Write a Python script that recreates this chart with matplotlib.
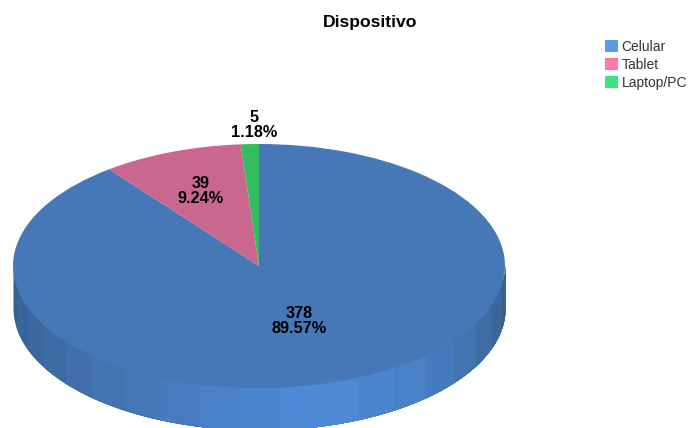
import numpy as np
import matplotlib
matplotlib.use('Agg')
import matplotlib.pyplot as plt
from matplotlib.patches import Patch

plt.rcParams['font.family'] = ['Liberation Sans', 'DejaVu Sans']

# data
devices = ['Celular', 'Tablet', 'Laptop/PC']
counts = [378, 39, 5]
top_colors = ['#4678B8', '#C9678F', '#33BC60']
legend_colors = ['#5B9BE8', '#FF79A8', '#3DE57E']
side_shades = ['#35608F', '#38659A', '#3A689E', '#3D6CA4', '#406FA9', '#4274B0',
               '#4478B7', '#467CBE', '#4881C6', '#4B85CE', '#4E8AD6', '#4E89D6',
               '#4B85CE', '#4881C6', '#457BBC', '#4274B0', '#3E6DA6', '#3A6699',
               '#365F90']

W, H = 688, 428
CX, CY, RX, RY = 259, 266, 246, 122
DEPTH = 42


def px(x, y):
    # picture pixels to axes data units
    return (x - CX) / RX, (CY - y) / RY


fig = plt.figure(figsize=(W / 100, H / 100), dpi=100)
ax = fig.add_axes([0, 0, 1, 1])

# side of the disc, lower half of the ellipse pushed down
# each band runs on to the end so no seam shows between neighbours
edges = np.linspace(np.pi, 2 * np.pi, len(side_shades) + 1)
for a0, shade in zip(edges[:-1], side_shades):
    t = np.linspace(a0, 2 * np.pi, 80)
    x = np.cos(t)
    y = np.sin(t)
    ax.fill_between(x, y * 0.9, y - DEPTH / RY, color=shade, lw=0, zorder=1)

wedges, _ = ax.pie(counts, colors=top_colors, startangle=90, counterclock=False,
                   wedgeprops={'linewidth': 0})
for w in wedges:
    w.set_zorder(2)

ax.set_aspect('auto')
ax.set_xlim(px(0, 0)[0], px(W, 0)[0])
ax.set_ylim(px(0, H)[1], px(0, 0)[1])
ax.axis('off')

total = sum(counts)
label_pos = [(299, 321), (201, 191), (254, 125)]
for n, (lx, ly) in zip(counts, label_pos):
    ax.text(*px(lx, ly), f'{n}\n{n / total * 100:.2f}%', ha='center', va='center',
            fontsize=11.7, fontweight='bold', color='black', linespacing=1.05, zorder=5)

ax.text(*px(370, 23), 'Dispositivo', ha='center', va='center', fontsize=12.6,
        fontweight='bold', color='black')

handles = [Patch(facecolor=c, edgecolor='none', label=d) for c, d in zip(legend_colors, devices)]
fig.legend(handles=handles, loc='upper left', bbox_to_anchor=(605 / W, 1 - 40 / H),
           frameon=False, fontsize=10, labelcolor='#333333', handlelength=0.9,
           handleheight=0.9, handletextpad=0.3, labelspacing=0.28, borderpad=0, borderaxespad=0)

fig.savefig('out.png', dpi=100)
